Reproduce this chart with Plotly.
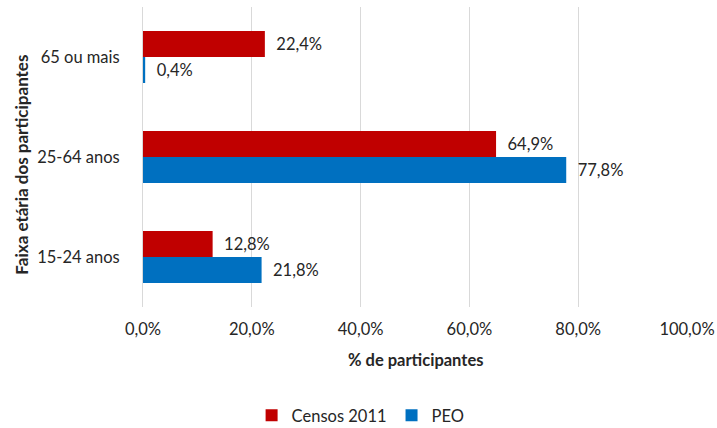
import plotly.graph_objects as go

categories = ["15-24 anos", "25-64 anos", "65 ou mais"]
censos_2011 = [12.8, 64.9, 22.4]
peo = [21.8, 77.8, 0.4]
x_ticks = [0, 20, 40, 60, 80, 100]
x_tick_labels = ["0,0%", "20,0%", "40,0%", "60,0%", "80,0%", "100,0%"]

FONT = "Lato, 'Open Sans', sans-serif"
TXT = "#262626"
FS = 16.5
NB = "\u00a0\u00a0"

fig = go.Figure()
fig.add_trace(go.Bar(
    y=categories, x=peo, name="PEO", orientation="h",
    marker=dict(color="#0070C0", line=dict(width=0)),
    texttemplate=NB + "%{x:.1f}%", textposition="outside",
    textfont=dict(size=FS, color=TXT, family=FONT), cliponaxis=False,
))
fig.add_trace(go.Bar(
    y=categories, x=censos_2011, name="Censos 2011", orientation="h",
    marker=dict(color="#C00000", line=dict(width=0)),
    texttemplate=NB + "%{x:.1f}%", textposition="outside",
    textfont=dict(size=FS, color=TXT, family=FONT), cliponaxis=False,
))

fig.update_layout(
    width=717, height=428,
    margin=dict(l=143, r=30, t=7, b=121, autoexpand=False),
    barmode="group", bargap=0.48, bargroupgap=0,
    separators=",.",
    paper_bgcolor="white", plot_bgcolor="white",
    font=dict(family=FONT, size=FS, color=TXT),
    showlegend=True,
    legend=dict(orientation="h", traceorder="reversed",
                x=0.40, xanchor="center", y=-0.362, yanchor="middle",
                font=dict(size=FS, color=TXT, family=FONT),
                itemwidth=30, tracegroupgap=0),
    xaxis=dict(range=[0, 100], tickvals=x_ticks, ticktext=x_tick_labels,
               showgrid=True, gridcolor="#D9D9D9", gridwidth=1,
               zeroline=False, showline=False, ticks="", automargin=False,
               ticklabelstandoff=10,
               tickfont=dict(size=FS, color=TXT, family=FONT)),
    yaxis=dict(showgrid=False, zeroline=False, showline=True, linecolor="#D9D9D9",
               linewidth=1, ticks="", ticklabelstandoff=19, automargin=False,
               tickfont=dict(size=FS, color=TXT, family=FONT)),
    annotations=[
        dict(text="<b>% de participantes</b>", xref="paper", yref="paper",
             x=0.5, y=-0.177, xanchor="center", yanchor="middle", showarrow=False,
             font=dict(size=FS, color=TXT, family=FONT)),
        dict(text="<b>Faixa etária dos participantes</b>", xref="paper", yref="paper",
             x=-0.224, y=0.475, xanchor="center", yanchor="middle", textangle=-90,
             showarrow=False, font=dict(size=17, color=TXT, family=FONT)),
    ],
)

fig.write_html("out.html")
